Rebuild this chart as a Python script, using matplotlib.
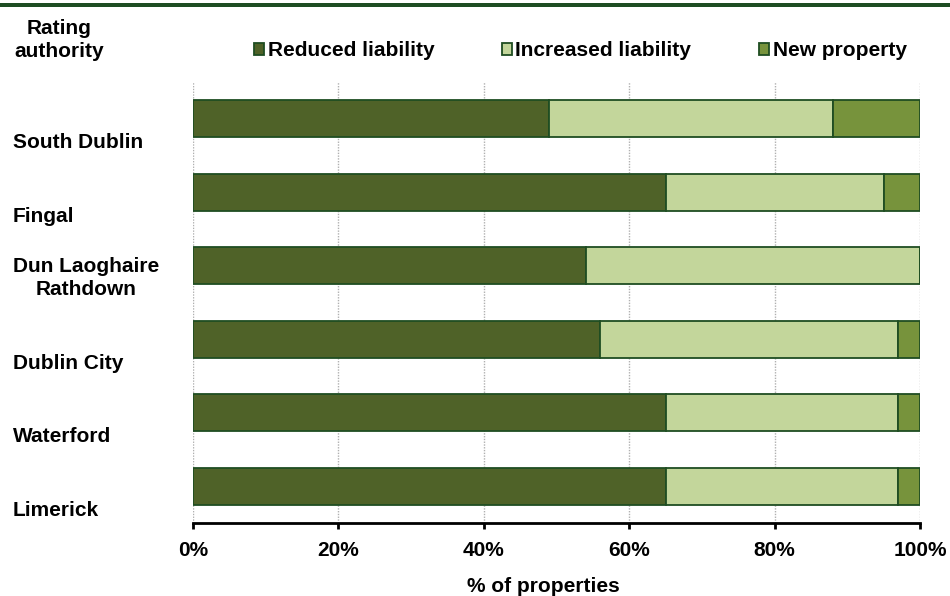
import matplotlib
matplotlib.use("Agg")
import matplotlib.pyplot as plt
from matplotlib.patches import Rectangle
import numpy as np

plt.rcParams['font.family'] = ['Liberation Sans', 'DejaVu Sans']
plt.rcParams['font.weight'] = 'bold'

authorities = ["South Dublin", "Fingal", "Dun Laoghaire\nRathdown", "Dublin City", "Waterford", "Limerick"]
reduced = [49, 65, 54, 56, 65, 65]
increased = [39, 30, 46, 41, 32, 32]
new_prop = [12, 5, 0, 3, 3, 3]
series_names = ["Reduced liability", "Increased liability", "New property"]
xticks = [0, 20, 40, 60, 80, 100]
xticklabels = ["0%", "20%", "40%", "60%", "80%", "100%"]

colors = ["#4f6228", "#c3d69b", "#77933c"]
edge = "#1f4d22"
W, H = 950, 596
fig = plt.figure(figsize=(9.5, 5.96), dpi=100)
ax = fig.add_axes([193 / W, (H - 523) / H, (920 - 193) / W, (523 - 82) / H])

y = np.arange(len(authorities))
left = np.zeros(len(authorities))
handles = []
for vals, col, name in zip([reduced, increased, new_prop], colors, series_names):
    vals = np.array(vals, dtype=float)
    b = ax.barh(y, vals, left=left, height=0.5, color=col, edgecolor=edge,
                linewidth=1.3, label=name, zorder=3)
    handles.append(b)
    left += vals

ax.set_xlim(0, 100)
ax.set_ylim(len(authorities) - 0.5, -0.5)
ax.set_xticks(xticks)
ax.set_xticklabels(xticklabels, fontsize=15, fontweight='bold')
ax.set_yticks([])
ax.xaxis.grid(True, linestyle=(0, (1, 1)), color="#b0b0b0", linewidth=1.0, zorder=0)
ax.set_axisbelow(True)
for s in ['left', 'right', 'top']:
    ax.spines[s].set_visible(False)
ax.spines['bottom'].set_linewidth(2.0)
ax.spines['bottom'].set_color('black')
ax.spines['bottom'].set_zorder(4)
ax.tick_params(axis='x', direction='out', length=4.5, width=2.0, pad=8.5, colors='black')

for i, lab in enumerate(authorities):
    off = -8.6 if "\n" in lab else -17.3
    ax.annotate(lab, xy=(13 / W, i), xycoords=('figure fraction', 'data'),
                xytext=(0, off), textcoords='offset points', ha='left', va='center',
                multialignment='center', fontsize=15, fontweight='bold',
                linespacing=1.25, annotation_clip=False)

fig.text(59 / W, 1 - 40 / H, "Rating\nauthority", ha='center', va='center',
         fontsize=15, fontweight='bold', linespacing=1.3)
fig.text(543 / W, 1 - 587 / H, "% of properties", ha='center', va='center',
         fontsize=15, fontweight='bold')

leg = fig.legend(handles=handles, labels=series_names, loc='center left',
                 bbox_to_anchor=(254 / W, 1 - 51 / H), bbox_transform=fig.transFigure,
                 ncol=3, frameon=False, fontsize=15, handlelength=0.5, handleheight=0.5,
                 handletextpad=0.15, columnspacing=3.25, borderpad=0, borderaxespad=0)
for t in leg.get_texts():
    t.set_fontweight('bold')

fig.add_artist(Rectangle((0, 1 - 7 / H), 1, 4 / H, transform=fig.transFigure,
                         color="#1e4d23", lw=0))

fig.savefig("out.png", dpi=100)
